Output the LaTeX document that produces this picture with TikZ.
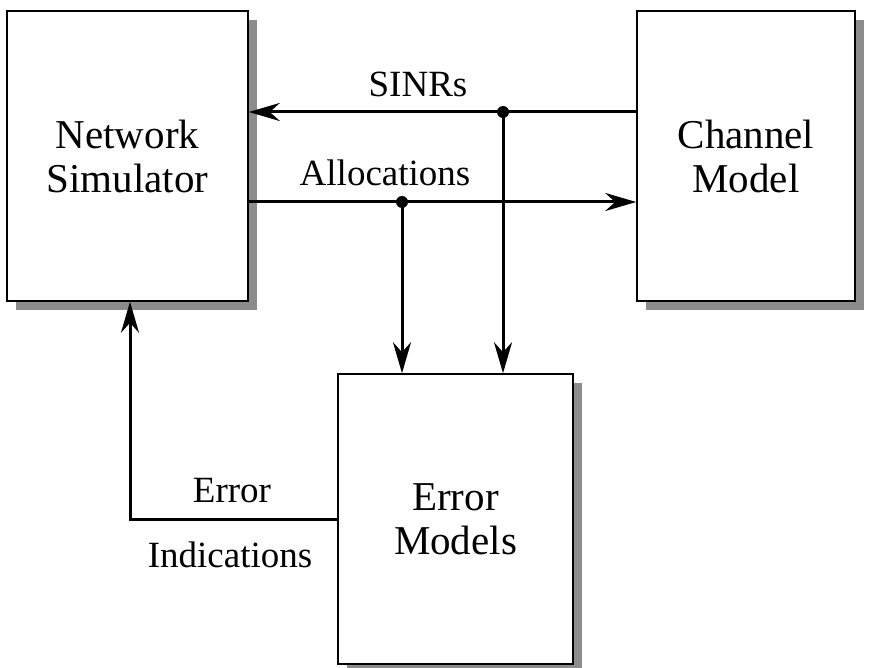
\documentclass[tikz,border=0pt]{standalone}
\usepackage{fontspec}
\setmainfont{Liberation Serif}
\usetikzlibrary{arrows.meta,positioning}
\definecolor{shadowgray}{HTML}{8C8C8C}
\tikzset{
  blockbox/.style={draw=black, line width=1.5pt, fill=white, minimum width=#1, align=center, font=\fontsize{41}{44}\selectfont, inner sep=0pt},
  conn/.style={line width=3pt, -{Stealth[length=31pt,width=18pt,inset=10pt]}},
  lbl/.style={font=\fontsize{37}{44}\selectfont, inner sep=0pt},
  junct/.style={circle, fill=black, inner sep=0pt, minimum size=12pt}
}
\begin{document}
\begin{tikzpicture}[x=1pt,y=-1pt]
\useasboundingbox (0,0) rectangle (874,668);
% shadows
\fill[shadowgray] (16,20) rectangle (257,310);
\fill[shadowgray] (646,20) rectangle (864,310);
\fill[shadowgray] (347,383) rectangle (582,673);
% boxes
\node[blockbox=241pt, minimum height=290pt] (ns) at (127.5,156) {Network\\Simulator};
\node[blockbox=218pt, minimum height=290pt] (cm) at (746,156) {Channel\\Model};
\node[blockbox=235pt, minimum height=290pt] (em) at (455.5,519) {Error\\Models};
% junctions
\coordinate (sinrR) at (cm.west |- 0,112);
\coordinate (allocL) at (ns.east |- 0,202);
\node[junct] (j1) at (503,112) {};
\node[junct] (j2) at (402,202) {};
\coordinate (emL) at (em.west |- 0,519);
\coordinate (corner) at (130,519);
% connectors
\draw[conn] (sinrR) -- (ns.east |- sinrR);
\draw[conn] (allocL) -- (cm.west |- allocL);
\draw[conn] (j1.center) -- (j1.center |- em.north);
\draw[conn] (j2.center) -- (j2.center |- em.north);
\draw[conn] (emL) -- (corner) -- (corner |- ns.south);
% labels
\node[lbl] (lsinr) at (418,84) {SINRs};
\node[lbl] (lalloc) at (385,173) {Allocations};
\node[lbl] (lerr) at (232,491) {Error};
\node[lbl] (lind) at (230,555) {Indications};
\end{tikzpicture}
\end{document}
